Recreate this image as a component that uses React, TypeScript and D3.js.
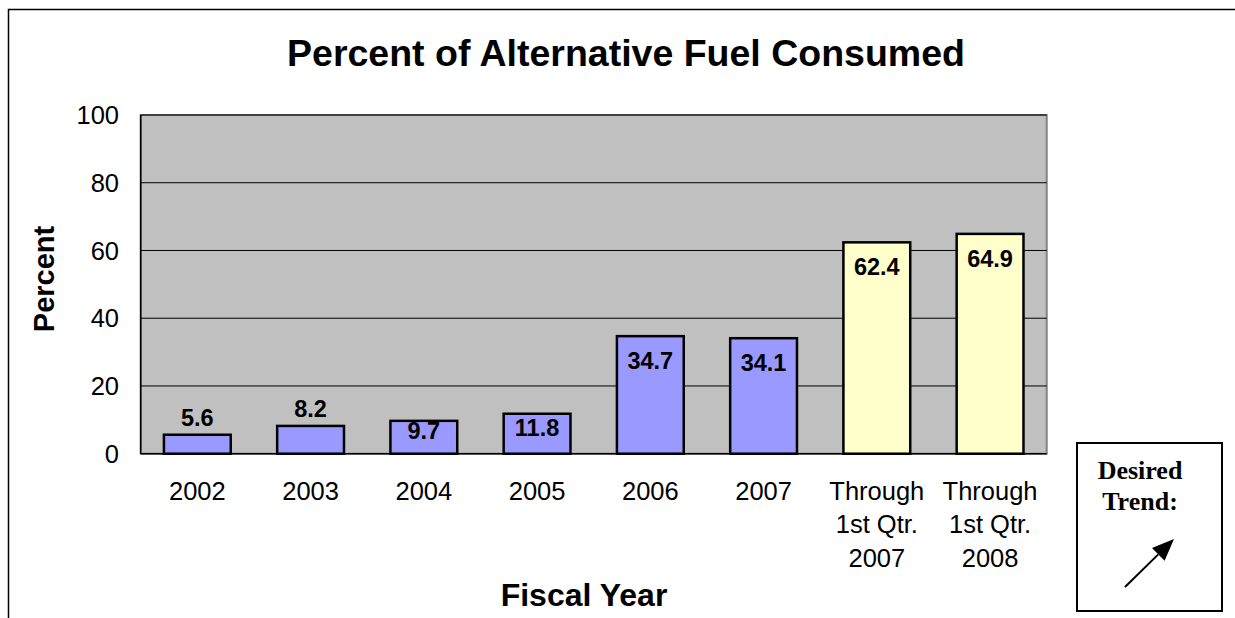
import React from "react";
import * as d3 from "d3";

const categories: string[] = [
  "2002",
  "2003",
  "2004",
  "2005",
  "2006",
  "2007",
  "Through\n1st Qtr.\n2007",
  "Through\n1st Qtr.\n2008",
];
const values: number[] = [5.6, 8.2, 9.7, 11.8, 34.7, 34.1, 62.4, 64.9];
const barKinds: string[] = ["annual", "annual", "annual", "annual", "annual", "annual", "quarter", "quarter"];
const yTicks: number[] = [0, 20, 40, 60, 80, 100];

const title = "Percent of Alternative Fuel Consumed";
const xTitle = "Fiscal Year";
const yTitle = "Percent";
const legendLines: string[] = ["Desired", "Trend:"];

const W = 1235;
const H = 618;
const plot = { left: 140.7, right: 1046.7, top: 115, bottom: 453.7 };
const SANS = "'Liberation Sans', Arial, Helvetica, sans-serif";
const SERIF = "'Liberation Serif', 'Times New Roman', serif";
const fills: Record<string, string> = { annual: "#9999FF", quarter: "#FFFFCC" };

export default function App() {
  const x = d3
    .scaleBand<string>()
    .domain(categories)
    .range([plot.left, plot.right])
    .paddingInner(0.41)
    .paddingOuter(0.205);
  const y = d3.scaleLinear().domain([0, 100]).range([plot.bottom, plot.top]);

  const box = { x0: 1077, y0: 443, x1: 1222, y1: 611 };
  const arrowTail = [1125, 587];
  const arrowTip = [1174, 539];
  const ang = Math.atan2(arrowTip[1] - arrowTail[1], arrowTip[0] - arrowTail[0]);
  const headLen = 22;
  const headHalf = 9;
  const bx = arrowTip[0] - headLen * Math.cos(ang);
  const by = arrowTip[1] - headLen * Math.sin(ang);
  const px = -Math.sin(ang);
  const py = Math.cos(ang);
  const head = [
    [arrowTip[0], arrowTip[1]],
    [bx + headHalf * px, by + headHalf * py],
    [bx - headHalf * px, by - headHalf * py],
  ];

  return (
    <svg
      width={W}
      height={H}
      style={{ position: "absolute", left: 0, top: 0, background: "#fff" }}
    >
      {/* outer chart border */}
      <path d={`M8.5,${H + 2} L8.5,9.5 L${W + 2},9.5`} fill="none" stroke="#000" strokeWidth={1.5} />

      {/* title */}
      <text x={626} y={65.7} textAnchor="middle" fontFamily={SANS} fontWeight="bold" fontSize={37.5}>
        {title}
      </text>

      {/* plot area */}
      <rect
        x={plot.left}
        y={plot.top}
        width={plot.right - plot.left}
        height={plot.bottom - plot.top}
        fill="#C0C0C0"
        stroke="#808080"
        strokeWidth={2}
      />
      {yTicks
        .filter((t) => t > 0)
        .map((t) => (
          <line key={t} x1={plot.left} x2={plot.right} y1={y(t)} y2={y(t)} stroke="#000" strokeWidth={1} />
        ))}
      {/* axes */}
      <line x1={plot.left} x2={plot.left} y1={plot.top} y2={plot.bottom} stroke="#000" strokeWidth={1.5} />
      <line x1={plot.left} x2={plot.right} y1={plot.bottom} y2={plot.bottom} stroke="#000" strokeWidth={1.5} />

      {/* y tick labels */}
      {yTicks.map((t) => (
        <text
          key={t}
          x={119}
          y={y(t)}
          dy="0.36em"
          textAnchor="end"
          fontFamily={SANS}
          fontSize={25.5}
        >
          {t}
        </text>
      ))}

      {/* bars */}
      {categories.map((c, i) => {
        const v = values[i];
        const x0 = x(c) as number;
        const top = y(v);
        return (
          <rect
            key={c}
            x={x0}
            y={top}
            width={x.bandwidth()}
            height={y(0) - top}
            fill={fills[barKinds[i]]}
            stroke="#000"
            strokeWidth={2.5}
          />
        );
      })}

      {/* value labels */}
      {categories.map((c, i) => {
        const v = values[i];
        const top = y(v);
        const bottom = y(0);
        const h = bottom - top;
        const cx = (x(c) as number) + x.bandwidth() / 2;
        const inside = h >= 30;
        const base = inside ? Math.min(top + 33, (top + bottom) / 2 + 2) : top - 8.5;
        return (
          <text key={c} x={cx} y={base} textAnchor="middle" fontFamily={SANS} fontWeight="bold" fontSize={23.5}>
            {v.toFixed(1)}
          </text>
        );
      })}

      {/* x tick labels */}
      {categories.map((c) => {
        const cx = (x(c) as number) + x.bandwidth() / 2;
        const lines = c.split("\n");
        return (
          <text key={c} x={cx} y={500} textAnchor="middle" fontFamily={SANS} fontSize={25.5}>
            {lines.map((ln, j) => (
              <tspan key={j} x={cx} dy={j === 0 ? 0 : 33.3}>
                {ln}
              </tspan>
            ))}
          </text>
        );
      })}

      {/* axis titles */}
      <text x={584} y={605.7} textAnchor="middle" fontFamily={SANS} fontWeight="bold" fontSize={32}>
        {xTitle}
      </text>
      <text
        transform={`translate(54,279) rotate(-90)`}
        textAnchor="middle"
        fontFamily={SANS}
        fontWeight="bold"
        fontSize={29}
      >
        {yTitle}
      </text>

      {/* desired trend box */}
      <rect
        x={box.x0}
        y={box.y0}
        width={box.x1 - box.x0}
        height={box.y1 - box.y0}
        fill="#fff"
        stroke="#000"
        strokeWidth={2}
      />
      {legendLines.map((ln, j) => (
        <text
          key={ln}
          x={1140}
          y={479.3 + j * 31}
          textAnchor="middle"
          fontFamily={SERIF}
          fontWeight="bold"
          fontSize={26}
        >
          {ln}
        </text>
      ))}
      <line x1={arrowTail[0]} y1={arrowTail[1]} x2={bx} y2={by} stroke="#000" strokeWidth={2} />
      <polygon points={head.map((p) => p.join(",")).join(" ")} fill="#000" />
    </svg>
  );
}
